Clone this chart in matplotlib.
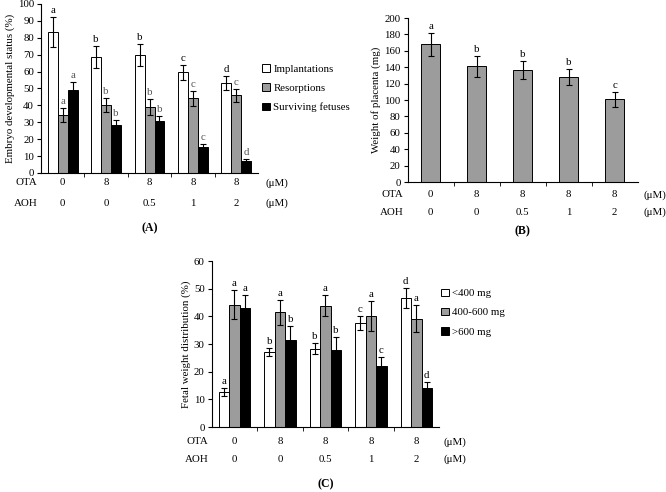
import numpy as np
import matplotlib
matplotlib.use("Agg")
import matplotlib.pyplot as plt

plt.rcParams["font.family"] = ["Liberation Serif", "DejaVu Serif"]
plt.rcParams["font.size"] = 7.8

ota = ["0", "8", "8", "8", "8"]
aoh = ["0", "0", "0.5", "1", "2"]

# (A) embryo developmental status
a_names = ["Implantations", "Resorptions", "Surviving fetuses"]
a_mean = [[83.5, 68.8, 69.8, 59.5, 53.2],
          [34.3, 40.3, 39.1, 44.1, 46.0],
          [49.1, 28.4, 30.6, 15.4, 7.2]]
a_err = [[9.0, 6.5, 6.3, 4.3, 4.0],
         [4.0, 4.3, 4.5, 4.5, 3.8],
         [4.5, 2.8, 3.1, 1.8, 1.0]]
a_sig = [["a", "b", "b", "c", "d"],
         ["a", "b", "b", "c", "c"],
         ["a", "b", "b", "c", "d"]]

# (B) placenta weight
b_mean = [168, 141, 137, 128, 101]
b_err = [14, 13, 11, 10, 9]
b_sig = ["a", "b", "b", "b", "c"]

# (C) fetal weight distribution
c_names = ["<400 mg", "400-600 mg", ">600 mg"]
c_mean = [[12.6, 27.1, 28.3, 37.7, 46.6],
          [44.2, 41.5, 43.9, 40.1, 39.2],
          [43.1, 31.4, 27.9, 22.2, 14.2]]
c_err = [[1.5, 1.6, 2.0, 2.5, 3.5],
         [5.2, 4.5, 3.8, 5.5, 5.0],
         [4.6, 5.2, 4.5, 3.0, 2.2]]
c_sig = [["a", "b", "b", "c", "d"],
         ["a", "a", "a", "a", "a"],
         ["a", "b", "b", "c", "d"]]

fills = ["white", "#9c9c9c", "black"]


def style_axis(ax, ymax, step):
    ax.spines["top"].set_visible(False)
    ax.spines["right"].set_visible(False)
    ax.set_xlim(-0.5, 4.5)
    ax.set_ylim(0, ymax)
    ax.set_yticks(np.arange(0, ymax + 1, step))
    ax.set_xticks([])
    ax.set_xticks([0.5, 1.5, 2.5, 3.5], minor=True)
    ax.tick_params(axis="x", which="minor", length=3, direction="out")
    ax.tick_params(axis="y", length=3, direction="out", pad=2)


def dose_rows(ax, y1, y2, xl, xr, ylab, tag):
    tr = ax.get_xaxis_transform()
    for i in range(5):
        ax.text(i, y1, ota[i], transform=tr, ha="center", va="center")
        ax.text(i, y2, aoh[i], transform=tr, ha="center", va="center")
    ax.text(xl, y1, "OTA", transform=ax.transAxes, ha="center", va="center")
    ax.text(xl, y2, "AOH", transform=ax.transAxes, ha="center", va="center")
    ax.text(xr, y1, "(μM)", transform=ax.transAxes, ha="center", va="center")
    ax.text(xr, y2, "(μM)", transform=ax.transAxes, ha="center", va="center")
    ax.text(0.5, ylab, tag, transform=ax.transAxes, ha="center", va="center",
            fontweight="bold", fontsize=8.5)


def grouped(ax, means, errs, sigs, names, sig_colors):
    x = np.arange(5)
    w = 0.23
    for k in range(3):
        xs = x + (k - 1) * w
        ax.bar(xs, means[k], w, color=fills[k], edgecolor="black",
               linewidth=0.7, label=names[k])
        ax.errorbar(xs, means[k], yerr=errs[k], fmt="none", ecolor="black",
                    elinewidth=0.8, capsize=2.2, capthick=0.8)
        for i in range(5):
            ax.annotate(sigs[k][i], (xs[i], means[k][i] + errs[k][i]),
                        xytext=(0, 1.5), textcoords="offset points",
                        ha="center", va="bottom", color=sig_colors[k])


fig = plt.figure(figsize=(6.66, 4.92), dpi=100)

axA = fig.add_axes([0.0616, 0.6484, 0.3258, 0.3435])
grouped(axA, a_mean, a_err, a_sig, a_names, ["black", "#555555", "#555555"])
style_axis(axA, 100, 10)
axA.set_ylabel("Embryo developmental status (%)", labelpad=2)
axA.legend(loc="upper left", bbox_to_anchor=(1.0, 0.67), frameon=False,
           handlelength=0.7, handleheight=0.7, handletextpad=0.3,
           labelspacing=0.9, borderaxespad=0)
dose_rows(axA, -0.059, -0.178, -0.069, 1.088, -0.33, "(A)")

axB = fig.add_axes([0.612, 0.630, 0.3453, 0.3333])
xb = np.arange(5)
axB.bar(xb, b_mean, 0.4, color="#9c9c9c", edgecolor="black", linewidth=0.7)
axB.errorbar(xb, b_mean, yerr=b_err, fmt="none", ecolor="black",
             elinewidth=0.8, capsize=2.2, capthick=0.8)
for i in range(5):
    axB.annotate(b_sig[i], (xb[i], b_mean[i] + b_err[i]), xytext=(0, 1.5),
                 textcoords="offset points", ha="center", va="bottom")
style_axis(axB, 200, 20)
axB.set_ylabel("Weight of placenta (mg)", labelpad=2)
dose_rows(axB, -0.079, -0.183, -0.068, 1.075, -0.30, "(B)")

axC = fig.add_axes([0.3179, 0.1321, 0.3413, 0.3374])
grouped(axC, c_mean, c_err, c_sig, c_names, ["black", "black", "black"])
style_axis(axC, 60, 10)
axC.set_ylabel("Fetal weight distribution (%)", labelpad=2)
axC.legend(loc="upper left", bbox_to_anchor=(0.99, 0.86), frameon=False,
           handlelength=0.7, handleheight=0.7, handletextpad=0.3,
           labelspacing=0.9, borderaxespad=0)
dose_rows(axC, -0.09, -0.193, -0.065, 1.07, -0.343, "(C)")

fig.savefig("out.png", dpi=100)
